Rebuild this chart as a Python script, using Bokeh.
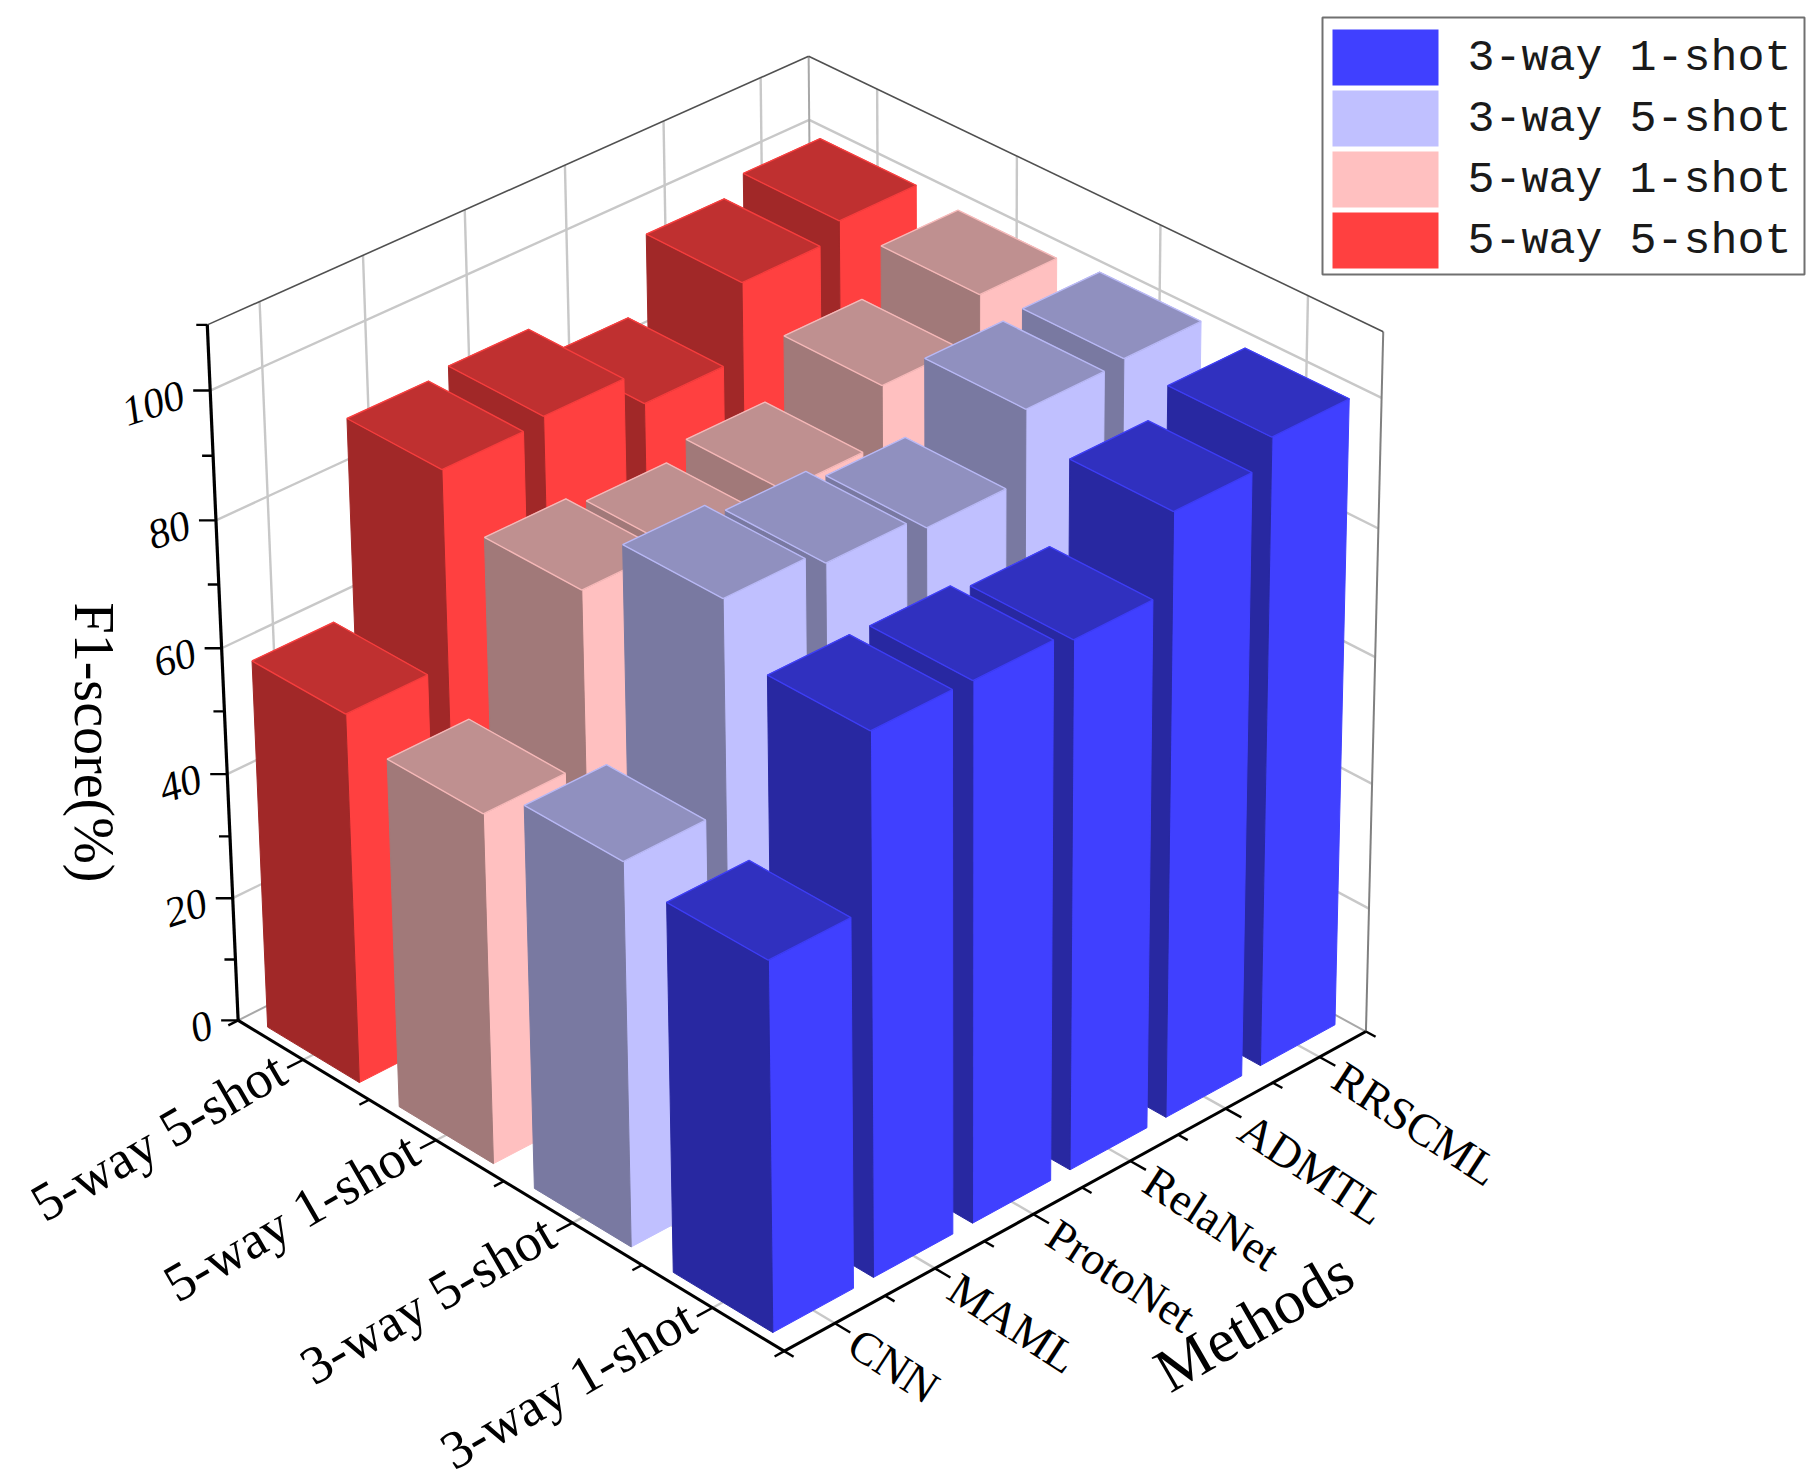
import numpy as np
from bokeh.plotting import figure
from bokeh.models import Range1d
from bokeh.embed import file_html
from bokeh.resources import INLINE
from bokeh.core.properties import value

# ---------------- data ----------------
methods = ["CNN", "MAML", "ProtoNet", "RelaNet", "ADMTL", "RRSCML"]
settings = ["3-way 1-shot", "3-way 5-shot", "5-way 1-shot", "5-way 5-shot"]
f1_3way_1shot = [58.1, 84.8, 84.6, 83.1, 95.0, 98.9]
f1_3way_5shot = [60.6, 92.8, 90.6, 88.5, 99.2, 99.7]
f1_5way_1shot = [55.6, 82.4, 80.6, 82.8, 91.7, 98.6]
f1_5way_5shot = [59.0, 89.4, 90.3, 85.0, 96.7, 99.3]
z_ticks = [0, 20, 40, 60, 80, 100]
z_max = 110

series = [f1_3way_1shot, f1_3way_5shot, f1_5way_1shot, f1_5way_5shot]
series_colors = ["#4040FF", "#C0C0FF", "#FFC0C0", "#FF4040"]

NU, NV = len(methods), len(settings)
BAR_WU, BAR_WV = 0.8, 0.7

# ---------------- view calibration (world u,v,z -> page px) ----------------
CAL_WORLD = np.array([
    [0, 4, 0], [0, 4, 20], [0, 4, 60], [0, 4, 100], [0, 4, 110],
    [6, 0, 0], [6, 0, 100], [6, 0, 110],
    [6, 4, 100], [6, 4, 110],
    [0, 0, 0], [0.5, 0, 0], [5.5, 0, 0],
    [0.1, 3.15, 0], [0.1, 0.15, 0],
], float)
CAL_PIX = np.array([
    [237.7, 1021.4], [232.6, 898.5], [222.0, 646.9], [209.9, 390.7], [206.4, 323.5],
    [1364.6, 1030.7], [1379.7, 397.7], [1384.3, 331.6],
    [808.1, 119.4], [808.1, 55.7],
    [783.8, 1350.7], [833.6, 1324.0], [1320.6, 1056.2],
    [358.3, 1080.6], [772.2, 1331.0],
], float)

SC = np.array([NU, NV, z_max], float)


def fit_camera():
    A = []
    for (X, Y, Z), (x, y) in zip(CAL_WORLD / SC, CAL_PIX / 1000.0):
        A.append([X, Y, Z, 1, 0, 0, 0, 0, -x * X, -x * Y, -x * Z, -x])
        A.append([0, 0, 0, 0, X, Y, Z, 1, -y * X, -y * Y, -y * Z, -y])
    _, _, vt = np.linalg.svd(np.asarray(A))
    return vt[-1].reshape(3, 4)


CAM = fit_camera()


def proj(u, v, z):
    h = CAM @ np.array([u / SC[0], v / SC[1], z / SC[2], 1.0])
    return (h[0] / h[2] * 1000.0, h[1] / h[2] * 1000.0)


def signed_area(pts):
    a = 0.0
    for k in range(len(pts)):
        x1, y1 = pts[k]
        x2, y2 = pts[(k + 1) % len(pts)]
        a += x1 * y2 - x2 * y1
    return a / 2.0


def shade(hexc, f):
    r, g, b = int(hexc[1:3], 16), int(hexc[3:5], 16), int(hexc[5:7], 16)
    return "#%02X%02X%02X" % (int(round(r * f)), int(round(g * f)), int(round(b * f)))


# ---------------- figure ----------------
W, H = 1810, 1478
p = figure(width=W, height=H, x_range=Range1d(0, W), y_range=Range1d(H, 0),
           output_backend="svg", toolbar_location=None, min_border=0,
           x_axis_type=None, y_axis_type=None)
p.grid.visible = False
p.outline_line_color = None
p.background_fill_color = "white"
p.border_fill_color = "white"


def draw_segments(segs, color, width, alpha=1.0):
    xs = [[a[0], b[0]] for a, b in segs]
    ys = [[a[1], b[1]] for a, b in segs]
    p.multi_line(xs, ys, line_color=color, line_width=width, line_alpha=alpha)


# ---------------- walls & floor grid ----------------
grid = []
for i in range(NU):
    grid.append((proj(i + 0.5, NV, 0), proj(i + 0.5, NV, z_max)))
    grid.append((proj(i + 0.5, 0, 0), proj(i + 0.5, NV, 0)))
for j in range(NV):
    grid.append((proj(NU, j + 0.5, 0), proj(NU, j + 0.5, z_max)))
    grid.append((proj(0, j + 0.5, 0), proj(NU, j + 0.5, 0)))
for z in z_ticks[1:]:
    grid.append((proj(0, NV, z), proj(NU, NV, z)))
    grid.append((proj(NU, 0, z), proj(NU, NV, z)))
draw_segments(grid, "#C8C8C8", 2.4)

draw_segments([(proj(0, NV, 0), proj(NU, NV, 0)), (proj(NU, 0, 0), proj(NU, NV, 0)),
               (proj(NU, NV, 0), proj(NU, NV, z_max))], "#A8A8A8", 2.0)
draw_segments([(proj(NU, 0, 0), proj(NU, 0, z_max))], "#808080", 2.0)
draw_segments([(proj(0, NV, z_max), proj(NU, NV, z_max)),
               (proj(NU, NV, z_max), proj(NU, 0, z_max))], "#505050", 1.6)

# ---------------- bars (painter's order, far to near) ----------------
ref_sign = np.sign(signed_area([proj(0, 0, 50), proj(1, 0, 50), proj(1, 1, 50), proj(0, 1, 50)]))
order = sorted([(i, j) for i in range(NU) for j in range(NV)],
               key=lambda t: -((t[0] + 0.5) / NU + (t[1] + 0.5) / NV))
for i, j in order:
    val = series[j][i]
    col = series_colors[j]
    u0, u1 = i + 0.5 - BAR_WU / 2, i + 0.5 + BAR_WU / 2
    v0, v1 = j + 0.5 - BAR_WV / 2, j + 0.5 + BAR_WV / 2
    faces = [
        ([(u0, v0, 0), (u1, v0, 0), (u1, v0, val), (u0, v0, val)], col),
        ([(u1, v1, 0), (u0, v1, 0), (u0, v1, val), (u1, v1, val)], col),
        ([(u0, v1, 0), (u0, v0, 0), (u0, v0, val), (u0, v1, val)], shade(col, 0.63)),
        ([(u1, v0, 0), (u1, v1, 0), (u1, v1, val), (u1, v0, val)], shade(col, 0.63)),
        ([(u0, v0, val), (u1, v0, val), (u1, v1, val), (u0, v1, val)], shade(col, 0.75)),
    ]
    xs_, ys_, cs_ = [], [], []
    top_pts = None
    for k, (corners, c) in enumerate(faces):
        pts = [proj(*q) for q in corners]
        if np.sign(signed_area(pts)) != ref_sign:
            continue
        xs_.append([q[0] for q in pts])
        ys_.append([q[1] for q in pts])
        cs_.append(c)
        if k == 4:
            top_pts = pts
    p.patches(xs_, ys_, fill_color=cs_, line_color=cs_, line_width=1)
    if top_pts is not None:
        p.line([q[0] for q in top_pts] + [top_pts[0][0]], [q[1] for q in top_pts] + [top_pts[0][1]],
               line_color=col, line_width=1.4, line_alpha=0.85)

# ---------------- axes ----------------
draw_segments([(proj(0, NV, 0), proj(0, NV, z_max))], "black", 3.2)
draw_segments([(proj(0, NV, 0), proj(0, 0, 0)), (proj(0, 0, 0), proj(NU, 0, 0))], "black", 3.0)

ticks = []
for z in range(0, z_max + 1, 10):
    x, y = proj(0, NV, z)
    L = 17 if z in z_ticks else 11
    ticks.append(((x, y), (x - L, y)))


def tick_dir(a, b):
    d = np.array(b) - np.array(a)
    return d / np.hypot(*d)


for k in range(2 * NV + 1):
    v = k / 2.0
    a = proj(0, v, 0)
    d = tick_dir(a, proj(-0.3, v, 0))
    L = 18 if k % 2 == 1 else 11
    ticks.append((a, (a[0] + d[0] * L, a[1] + d[1] * L)))
for k in range(2 * NU + 1):
    u = k / 2.0
    a = proj(u, 0, 0)
    d = tick_dir(a, proj(u, -0.3, 0))
    L = 18 if k % 2 == 1 else 11
    ticks.append((a, (a[0] + d[0] * L, a[1] + d[1] * L)))
draw_segments(ticks, "black", 2.4)

serif = value("Liberation Serif")

zl = [proj(0, NV, z) for z in z_ticks]
p.text(x=[q[0] - 27 for q in zl], y=[q[1] + 3 for q in zl], text=[str(z) for z in z_ticks],
       angle=18, angle_units="deg", text_font=serif, text_font_size="42px",
       text_font_style="italic", text_align="right", text_baseline="middle", text_color="black")

sl = [proj(0, j + 0.5, 0) for j in range(NV)]
p.text(x=[q[0] - 22 for q in sl], y=[q[1] + 6 for q in sl], text=settings,
       angle=30, angle_units="deg", text_font=serif, text_font_size="54px",
       text_align="right", text_baseline="middle", text_color="black")

ml = [proj(i + 0.5, 0, 0) for i in range(NU)]
p.text(x=[q[0] + 18 for q in ml], y=[q[1] + 16 for q in ml], text=methods,
       angle=-33, angle_units="deg", text_font=serif, text_font_size="46px",
       text_align="left", text_baseline="middle", text_color="black")

mt = proj(2.8, -1.45, 0)
p.text(x=[mt[0] - 23], y=[mt[1]], text=["Methods"], angle=30, angle_units="deg",
       text_font=serif, text_font_size="62px", text_align="center", text_baseline="middle",
       text_color="black")

p.text(x=[93], y=[742], text=["F1-score(%)"], angle=-90, angle_units="deg",
       text_font=serif, text_font_size="56px", text_align="center", text_baseline="middle",
       text_color="black")

# ---------------- legend ----------------
p.quad(left=[1322], right=[1804], top=[17], bottom=[274], fill_color="white",
       line_color="#707070", line_width=2)
row_top = [29, 90, 151, 212]
p.quad(left=[1332] * NV, right=[1438] * NV, top=row_top, bottom=[t + 56 for t in row_top],
       fill_color=series_colors, line_color=None)
p.text(x=[1467] * NV, y=[t + 29 for t in row_top], text=settings,
       text_font=value("Liberation Mono"), text_font_size="45px", text_align="left",
       text_baseline="middle", text_color="#1a1a1a")

open("out.html", "w").write(file_html(p, INLINE))
